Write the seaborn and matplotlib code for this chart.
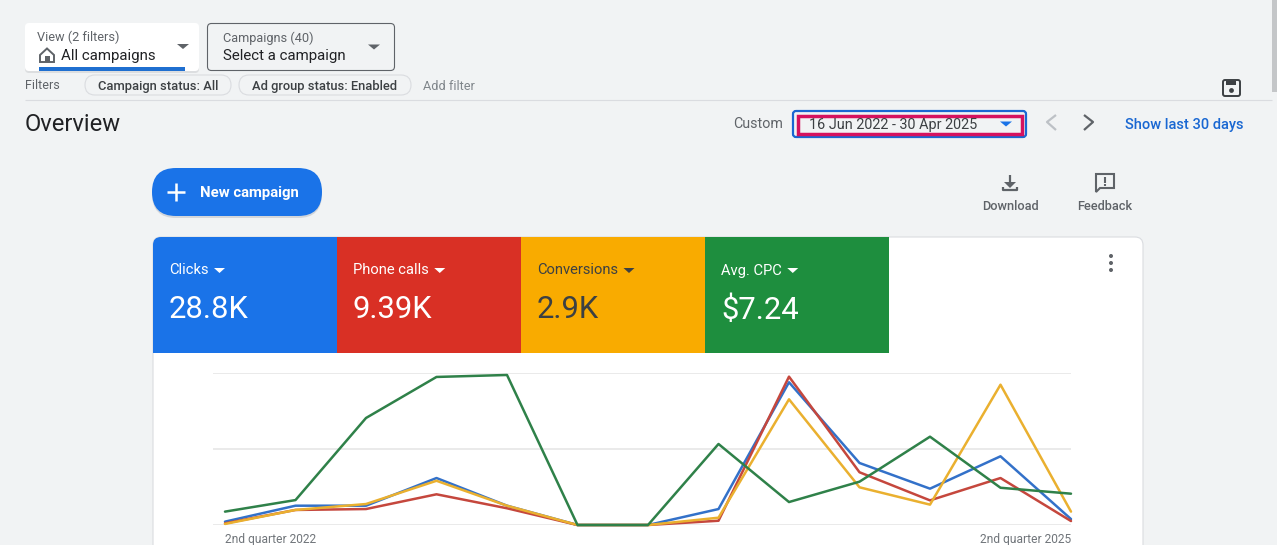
import matplotlib
matplotlib.use('Agg')
import matplotlib.pyplot as plt
from matplotlib.patches import FancyBboxPatch, Polygon, Rectangle, Circle
import pandas as pd
import seaborn as sns

# quarters, Q2 2022 to Q2 2025
quarters = list(range(13))
tick_positions = [0, 12]
tick_labels = ['2nd quarter 2022', '2nd quarter 2025']

clicks = [2.2, 12.7, 12.7, 30.9, 12.7, 0, 0, 10.5, 93.9, 40.8, 23.9, 45.2, 3.9]
phone_calls = [1.1, 9.9, 10.5, 20.2, 11.0, 0, 0, 2.8, 97.6, 34.7, 16.2, 30.9, 2.6]
conversions = [0.7, 9.9, 13.8, 29.1, 12.7, 0, 0, 4.8, 82.7, 24.8, 13.4, 92.3, 8.8]
avg_cpc = [8.8, 16.4, 70.4, 97.4, 98.7, 0, 0, 53.3, 15.1, 28.5, 58.1, 24.5, 20.6]

metric_names = ['Clicks', 'Phone calls', 'Conversions', 'Avg. CPC']
metric_totals = ['28.8K', '9.39K', '2.9K', '$7.24']
tile_colors = ['#1a73e8', '#d93025', '#f9ab00', '#1e8e3e']
tile_text = ['white', 'white', '#3c4043', 'white']
line_colors = ['#3371c9', '#c5473d', '#eab02f', '#2f8149']

BG = '#f1f3f4'
GREY = '#5f6368'
DARK = '#202124'
BLUE = '#1a73e8'

sns.set_theme(style='whitegrid')
plt.rcParams['font.family'] = ['Roboto', 'DejaVu Sans']

fig = plt.figure(figsize=(12.77, 5.45), dpi=100, facecolor=BG)

# page furniture in pixel coordinates
ui = fig.add_axes([0, 0, 1, 1], zorder=1)
ui.set_xlim(0, 1277)
ui.set_ylim(545, 0)
ui.axis('off')


def box(x0, y0, x1, y1, r=4, fc='white', ec='none', lw=1, z=2):
    p = FancyBboxPatch((x0, y0), x1 - x0, y1 - y0, boxstyle=f'round,pad=0,rounding_size={r}',
                       fc=fc, ec=ec, lw=lw, zorder=z)
    ui.add_patch(p)
    return p


def label(x, y, s, px=13, color=GREY, ha='left', weight='normal'):
    return ui.text(x, y, s, fontsize=px * 0.72, color=color, ha=ha, va='center', weight=weight, zorder=6)


def arrow(x, y, color=GREY, w=6, h=5):
    ui.add_patch(Polygon([(x - w, y - h / 2), (x + w, y - h / 2), (x, y + h / 2)], fc=color, ec='none', zorder=6))


def stroke(xs, ys, color=GREY, lw=1.5):
    ui.plot(xs, ys, color=color, lw=lw, zorder=6, solid_capstyle='butt')


# top selectors
box(25, 25, 199, 73, fc='#dcdee0', z=1)
view_box = box(25, 23, 199, 71)
blue_bar = Rectangle((39, 67), 146, 6, fc='#1f6fd0', ec='none', zorder=3)
ui.add_patch(blue_bar)
blue_bar.set_clip_path(view_box)
label(37, 37.5, 'View (2 filters)', 12.7)
label(61, 56, 'All campaigns', 15, DARK)
ui.add_patch(Polygon([(40, 55), (47, 48.5), (54, 55), (54, 62), (40, 62)], fc='none', ec=GREY, lw=1.4, zorder=6))
ui.add_patch(Rectangle((44.5, 56), 5, 6, fc=GREY, ec='none', zorder=6))
arrow(183, 46.5)

box(207.5, 23.5, 394.5, 70.5, fc=BG, ec=GREY, lw=0.8)
label(223, 38.5, 'Campaigns (40)', 12.7)
label(223, 56, 'Select a campaign', 15, DARK)
arrow(374, 47)

# filter row
label(25, 85.5, 'Filters', 12.5)
box(85, 75, 231, 95, r=10, fc=BG, ec='#dadce0', lw=0.8)
label(158, 86.5, 'Campaign status: All', 12.9, '#3c4043', ha='center', weight='medium')
box(239, 75, 411, 95, r=10, fc=BG, ec='#dadce0', lw=0.8)
label(325, 86.5, 'Ad group status: Enabled', 12.9, '#3c4043', ha='center', weight='medium')
label(423, 86, 'Add filter', 12.7, '#80868b')
stroke([25, 1272], [99.5, 99.5], '#dadce0', 0.8)
ui.add_patch(Rectangle((1272, 0), 5, 92, fc='#c4c6c8', ec='none', zorder=2))

# save icon
box(1223, 80, 1240, 96, r=2, fc='none', ec='#3c4043', lw=1.4, z=6)
ui.add_patch(Rectangle((1226, 81), 10, 4, fc='#3c4043', ec='none', zorder=6))
ui.add_patch(Circle((1231.5, 90.5), 2.4, fc='#3c4043', ec='none', zorder=6))

# overview header and date range
label(25, 124.5, 'Overview', 23.7, DARK)
label(733, 124.5, 'Custom', 14.3, GREY)
box(793, 111, 1026, 137, r=3, fc=BG, ec='#1a67d2', lw=1.6)
ui.add_patch(Rectangle((798, 115.5), 224, 18.5, fc='none', ec='#d5125f', lw=2.5, zorder=4))
label(809, 125, '16 Jun 2022 - 30 Apr 2025', 14.4, '#3c4043')
arrow(1006, 124, '#1a73e8')
stroke([1056, 1047, 1056], [115, 122, 130], '#bdc1c6', 1.6)
stroke([1084, 1093, 1084], [115, 122, 130], GREY, 1.6)
label(1125, 125, 'Show last 30 days', 14.6, '#1967d2', weight='medium')

# new campaign button
box(152, 170, 322, 218, r=24, fc='#d3d6da', z=1)
box(152, 168, 322, 216, r=24, fc=BLUE)
stroke([167, 185], [192, 192], 'white', 1.8)
stroke([176, 176], [183, 201], 'white', 1.8)
label(200, 192.5, 'New campaign', 14.9, 'white', weight='bold')

# download and feedback
stroke([1010, 1010], [175, 186], GREY, 1.6)
ui.add_patch(Polygon([(1004, 182), (1016, 182), (1010, 188)], fc=GREY, ec='none', zorder=6))
stroke([1003, 1003, 1017, 1017], [187, 190, 190, 187], GREY, 1.6)
label(1010, 206, 'Download', 12.7, GREY, ha='center', weight='medium')
ui.add_patch(Polygon([(1096, 174), (1114, 174), (1114, 188), (1100, 188), (1096, 192)], fc='none', ec=GREY, lw=1.5, zorder=6))
stroke([1105, 1105], [177, 182.5], GREY, 1.5)
stroke([1105, 1105], [184, 186], GREY, 1.5)
label(1105, 206, 'Feedback', 12.7, GREY, ha='center', weight='medium')

# card with the metric tiles
card = box(153, 237, 1143, 600, r=8, fc='white', ec='#dadce0', lw=0.8)
fig.canvas.draw()
for i, (name, total) in enumerate(zip(metric_names, metric_totals)):
    x0 = 153 + 184 * i
    tile = Rectangle((x0, 237), 184, 116, fc=tile_colors[i], ec='none', zorder=3)
    ui.add_patch(tile)
    tile.set_clip_path(card)
    name_text = label(x0 + 16, 270.5, name, 14.7, tile_text[i])
    label(x0 + 16, 310, total, 31, tile_text[i])
    # dropdown arrow sits just after the metric name
    bb = ui.transData.inverted().transform(name_text.get_window_extent())
    arrow(bb[1][0] + 11, 270.5, tile_text[i], 5.5, 5)
for y in [256, 263, 270]:
    ui.add_patch(Circle((1111, y), 2, fc=GREY, ec='none', zorder=6))

# the chart itself
df = pd.DataFrame({'quarter': quarters * 4,
                   'value': clicks + phone_calls + conversions + avg_cpc,
                   'metric': sum([[m] * len(quarters) for m in metric_names], [])})

x_left, x_right = 225, 1071
step = (x_right - x_left) / (len(quarters) - 1)
grid_left = 213
ax = fig.add_axes([grid_left / 1277, (545 - 525) / 545, (x_right - grid_left) / 1277, (525 - 373) / 545], zorder=2)
ax.patch.set_alpha(0)
sns.lineplot(data=df, x='quarter', y='value', hue='metric', hue_order=metric_names,
             palette=line_colors, linewidth=1.8, legend=False, clip_on=False, ax=ax)
ax.set_xlim(-(x_left - grid_left) / step, len(quarters) - 1)
ax.set_ylim(0, 100)
ax.set_yticks([0, 50, 100])
ax.set_yticklabels([])
ax.set_xticks(tick_positions)
ax.set_xticklabels(tick_labels, fontsize=12 * 0.72, color='#70757a')
ax.get_xticklabels()[0].set_ha('left')
ax.get_xticklabels()[1].set_ha('right')
ax.set_xlabel('')
ax.set_ylabel('')
ax.grid(axis='x', visible=False)
ax.grid(axis='y', color='#e6e6e6', lw=1.2)
ax.tick_params(axis='both', length=0, pad=6)
sns.despine(ax=ax, left=True, bottom=True)

fig.savefig('out.png', dpi=100, facecolor=BG)
